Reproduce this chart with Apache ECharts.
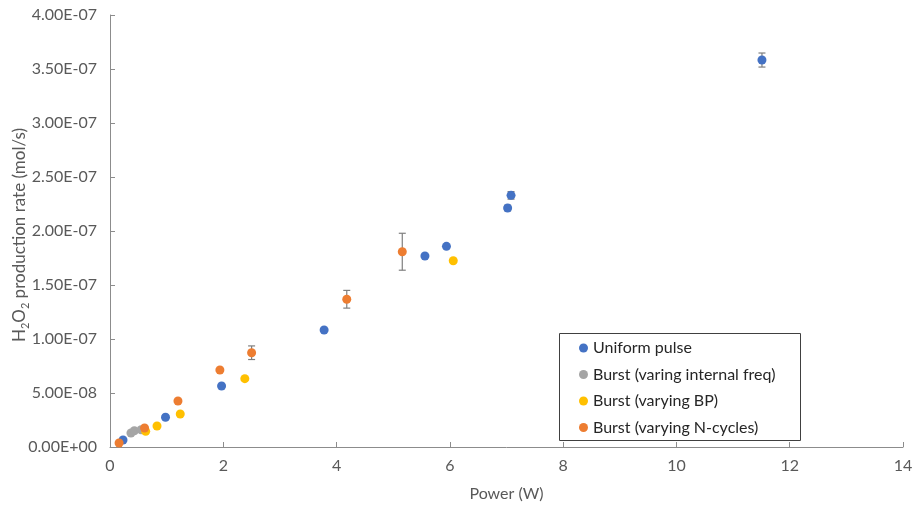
<!DOCTYPE html>
<html>
<head>
<meta charset="utf-8">
<script src="https://cdn.jsdelivr.net/npm/echarts@6/dist/echarts.min.js"></script>
<style>
  html, body { margin: 0; padding: 0; background: #fff; }
  #chart { width: 914px; height: 506px; }
</style>
</head>
<body>
<div id="chart"></div>
<script>
// Series names
const seriesNames = [
  'Uniform pulse',
  'Burst (varing internal freq)',
  'Burst (varying BP)',
  'Burst (varying N-cycles)'
];

// Uniform pulse: power (W), rate (mol/s), error (mol/s)
const uniformX   = [0.23, 0.98, 1.97, 3.78, 5.56, 5.94, 7.02, 7.08, 11.51];
const uniformY   = [6.5e-9, 2.75e-8, 5.65e-8, 1.083e-7, 1.769e-7, 1.858e-7, 2.213e-7, 2.33e-7, 3.583e-7];
const uniformErr = [0, 0, 0, 0, 0, 0, 2.5e-9, 3.5e-9, 6.5e-9];

// Burst, varying internal frequency
const freqX   = [0.37, 0.43, 0.55];
const freqY   = [1.3e-8, 1.5e-8, 1.6e-8];
const freqErr = [0, 0, 0];

// Burst, varying burst period
const bpX   = [0.63, 0.83, 1.24, 2.38, 6.06];
const bpY   = [1.45e-8, 1.94e-8, 3.06e-8, 6.33e-8, 1.725e-7];
const bpErr = [0, 0, 0, 0, 0];

// Burst, varying number of cycles
const ncycX   = [0.16, 0.61, 1.20, 1.94, 2.50, 4.18, 5.16];
const ncycY   = [3.7e-9, 1.76e-8, 4.26e-8, 7.13e-8, 8.73e-8, 1.368e-7, 1.808e-7];
const ncycErr = [0, 0, 0, 0, 6.3e-9, 8.2e-9, 1.71e-8];

// Axis ticks
const xTicks = { min: 0, max: 14, interval: 2 };
const yTicks = { min: 0, max: 4e-7, interval: 5e-8 };

const colors = ['#4472C4', '#A5A5A5', '#FFC000', '#ED7D31'];
const FONT = 'Lato';

function pairs(xs, ys) { return xs.map((x, i) => [x, ys[i]]); }
function errRows(xs, ys, es) {
  return xs.map((x, i) => [x, ys[i], es[i]]).filter(r => r[2] > 0);
}

function sciLabel(v) {
  if (v === 0) return '0.00E+00';
  let e = Math.floor(Math.log10(Math.abs(v)) + 1e-9);
  let m = v / Math.pow(10, e);
  if (Math.abs(m) >= 9.995) { m /= 10; e += 1; }
  const sign = e < 0 ? '-' : '+';
  const ee = String(Math.abs(e)).padStart(2, '0');
  return m.toFixed(2) + 'E' + sign + ee;
}

// Error bar drawing via the chart's own coordinate system
function errorBarItem(params, api) {
  const x = api.value(0), y = api.value(1), e = api.value(2);
  const hi = api.coord([x, y + e]);
  const lo = api.coord([x, y - e]);
  const cap = 3.5;
  const style = { stroke: '#7F7F7F', lineWidth: 1.2 };
  return {
    type: 'group',
    children: [
      { type: 'line', shape: { x1: hi[0], y1: hi[1], x2: lo[0], y2: lo[1] }, style },
      { type: 'line', shape: { x1: hi[0] - cap, y1: hi[1], x2: hi[0] + cap, y2: hi[1] }, style },
      { type: 'line', shape: { x1: lo[0] - cap, y1: lo[1], x2: lo[0] + cap, y2: lo[1] }, style }
    ]
  };
}

const groups = [
  [uniformX, uniformY, uniformErr],
  [freqX, freqY, freqErr],
  [bpX, bpY, bpErr],
  [ncycX, ncycY, ncycErr]
];

const series = [];
groups.forEach((g, i) => {
  series.push({
    name: seriesNames[i],
    type: 'scatter',
    symbol: 'circle',
    symbolSize: 9,
    itemStyle: { color: colors[i], opacity: 1 },
    data: pairs(g[0], g[1]),
    z: 3 + i
  });
  const rows = errRows(g[0], g[1], g[2]);
  if (rows.length) {
    series.push({
      type: 'custom',
      renderItem: errorBarItem,
      data: rows,
      encode: { x: 0, y: 1 },
      silent: true,
      z: 3 + i
    });
  }
});

const chart = echarts.init(document.getElementById('chart'), null, { renderer: 'canvas' });
chart.setOption({
  animation: false,
  textStyle: { fontFamily: FONT },
  grid: { left: 110, right: 11, top: 15, bottom: 59, containLabel: false, outerBoundsMode: 'none' },
  xAxis: {
    type: 'value',
    min: xTicks.min, max: xTicks.max, interval: xTicks.interval,
    name: 'Power (W)',
    nameLocation: 'middle',
    nameGap: 39,
    nameMoveOverlap: false,
    nameTextStyle: { fontFamily: FONT, fontSize: 16, color: '#595959' },
    axisLine: { show: true, lineStyle: { color: '#8C8C8C', width: 1 } },
    axisTick: { show: true, inside: true, length: 5, lineStyle: { color: '#8C8C8C' } },
    axisLabel: { fontFamily: FONT, fontSize: 16, color: '#595959', margin: 11 },
    splitLine: { show: false }
  },
  yAxis: {
    type: 'value',
    min: yTicks.min, max: yTicks.max, interval: yTicks.interval,
    name: '{n|H}{s|2}{n|O}{s|2}{n| production rate (mol/s)}',
    nameLocation: 'middle',
    nameRotate: 90,
    nameGap: 82,
    nameMoveOverlap: false,
    nameTextStyle: {
      color: '#595959',
      padding: [0, 8, 0, 0],
      rich: {
        n: { fontFamily: FONT, fontSize: 17, color: '#595959', verticalAlign: 'bottom', lineHeight: 19 },
        s: { fontFamily: FONT, fontSize: 11, color: '#595959', verticalAlign: 'bottom', lineHeight: 12, padding: [0, 0, -3, 0] }
      }
    },
    axisLine: { show: true, lineStyle: { color: '#8C8C8C', width: 1 } },
    axisTick: { show: true, inside: true, length: 5, lineStyle: { color: '#8C8C8C' } },
    axisLabel: { fontFamily: FONT, fontSize: 16, color: '#595959', margin: 13, formatter: sciLabel },
    splitLine: { show: false }
  },
  legend: {
    orient: 'vertical',
    left: 574,
    top: 335,
    itemGap: 10.5,
    itemWidth: 9,
    itemHeight: 9,
    icon: 'circle',
    textStyle: { fontFamily: FONT, fontSize: 16, color: '#262626', padding: [0, 0, 0, 0] },
    data: seriesNames
  },
  graphic: [{
    type: 'rect',
    left: 559, top: 333,
    shape: { width: 241, height: 107 },
    style: { fill: 'rgba(0,0,0,0)', stroke: '#404040', lineWidth: 1 },
    z: 100
  }],
  series: series
});
</script>
</body>
</html>
